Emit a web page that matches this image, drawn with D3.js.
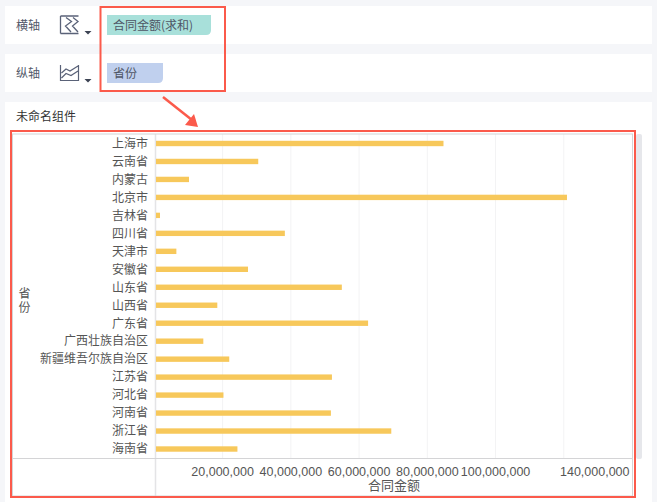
<!DOCTYPE html>
<html><head><meta charset="utf-8">
<script src="https://cdn.jsdelivr.net/npm/d3@7"></script>
<style>html,body{margin:0;padding:0;background:#f5f6f9}svg{display:block}text{font-family:"Noto Sans CJK SC","Noto Sans",sans-serif}</style>
</head><body><svg id="c" width="657" height="502"></svg>
<script>
const provinces=["上海市","云南省","内蒙古","北京市","吉林省","四川省","天津市","安徽省","山东省","山西省","广东省","广西壮族自治区","新疆维吾尔族自治区","江苏省","河北省","河南省","浙江省","海南省"];
const amounts=[84300000,30000000,9700000,120500000,1200000,37800000,6000000,27000000,54500000,18000000,62200000,13900000,21500000,51600000,19800000,51300000,69000000,23900000];
const gridValues=[20000000,40000000,60000000,80000000,100000000,120000000];
const tickLabels=[20000000,40000000,60000000,80000000,100000000];
const endTick=140000000;
const xTitle="合同金额", yTitle="省份";
const svg=d3.select("#c");
const red="#fb5a4b";
const rect=(x,y,w,h,f)=>svg.append("rect").attr("x",x).attr("y",y).attr("width",w).attr("height",h).attr("fill",f);
// panels
rect(5,6,647,38,"#fff");rect(5,54,647,38,"#fff");rect(5,102,647,400,"#fff");
rect(636,134,6,325,"#e6e7eb").attr("rx",2);
const label=(x,y,s,size,fill,anchor)=>svg.append("text").attr("x",x).attr("y",y).attr("font-size",size).attr("fill",fill).attr("text-anchor",anchor||"start").text(s);
label(16,30,"横轴",12,"#53596a");label(16,78,"纵轴",12,"#53596a");
label(16,121,"未命名组件",12,"#333");
// icons
const ic="#5a6278";
svg.append("path").attr("d","M60.5 16V33.5M60.5 16H78.5M60.5 33.5H78.5M66 17.5L71.5 21.5L65.5 26L71 32M73 17.5L78 21.5L72.5 26L78 32").attr("fill","none").attr("stroke",ic).attr("stroke-width",1.3);
svg.append("path").attr("d","M60.5 65V80.5H78.5V65M61.5 73L66 69L70 71L78 66M61.5 78L66 73.5L71 75.5L78 71").attr("fill","none").attr("stroke",ic).attr("stroke-width",1.2);
svg.append("path").attr("d","M84.5 31H91.5L88 34.5ZM84.5 79H91.5L88 82.5Z").attr("fill","#3d4454");
// pills
const pill=(x,y,w,h,f)=>svg.append("path").attr("d",`M${x} ${y}H${x+w}V${y+h-5}Q${x+w} ${y+h} ${x+w-5} ${y+h}H${x}Z`).attr("fill",f);
pill(107,15,104,20,"#a8e0da");pill(107,63,56,20,"#c0d0ee");
label(113,29.5,"合同金额(求和)",12,"#4f5666");label(113,77.5,"省份",12,"#4f5666");
// highlight box & arrow
svg.append("rect").attr("x",100.5).attr("y",7).attr("width",124.5).attr("height",84).attr("fill","none").attr("stroke",red).attr("stroke-width",2);
svg.append("line").attr("x1",163).attr("y1",97).attr("x2",192).attr("y2",120).attr("stroke",red).attr("stroke-width",2.5);
svg.append("path").attr("d","M198 127L185 125L194 114Z").attr("fill",red);
// chart
const L=155.5,R=632,T=134,B=458.5;
const x=d3.scaleLinear().domain([0,endTick]).range([154.4,632]);
const y=d3.scaleBand().domain(provinces).range([134.5,458]);
svg.append("g").selectAll("line").data(gridValues).join("line").attr("x1",d=>x(d)).attr("x2",d=>x(d)).attr("y1",T).attr("y2",B).attr("stroke","#f3f3f4");
svg.append("line").attr("x1",L).attr("x2",L).attr("y1",T).attr("y2",496).attr("stroke","#e4e4e6").attr("stroke-width",1.5);
svg.selectAll(".bar").data(provinces).join("rect").attr("class","bar").attr("x",L+.5).attr("y",d=>y(d)+y.bandwidth()/2-2.7).attr("height",5.4)
 .attr("width",(d,i)=>x(amounts[i])-L-.5+1.5).attr("fill","#f7c85b");
svg.append("g").selectAll("text").data(provinces).join("text").attr("x",148).attr("y",d=>y(d)+y.bandwidth()/2+4.3).attr("text-anchor","end").attr("font-size",12).attr("fill","#555").text(d=>d);
const fmt=d3.format(",");
const numFont='"Liberation Sans",sans-serif';
svg.append("g").selectAll("text").data(tickLabels).join("text").attr("x",d=>x(d)).attr("y",475.5).attr("text-anchor","middle").attr("font-size",12.5).attr("fill","#555").style("font-family",numFont).text(fmt);
label(629.5,475.5,fmt(endTick),12.5,"#555","end").style("font-family",numFont);
label(394,490,xTitle,13,"#555","middle");
svg.append("text").attr("x",24.5).attr("y",287).attr("font-size",12).attr("fill","#555").style("writing-mode","vertical-rl").style("letter-spacing","2px").text(yTitle);
svg.append("line").attr("x1",12).attr("x2",632).attr("y1",458.5).attr("y2",458.5).attr("stroke","#d4d4d6");
svg.append("rect").attr("x",12.5).attr("y",134).attr("width",620).attr("height",362).attr("fill","none").attr("stroke","#d4d4d6");
svg.append("rect").attr("x",11).attr("y",131).attr("width",624).attr("height",366).attr("fill","none").attr("stroke",red).attr("stroke-width",2);
</script></body></html>
